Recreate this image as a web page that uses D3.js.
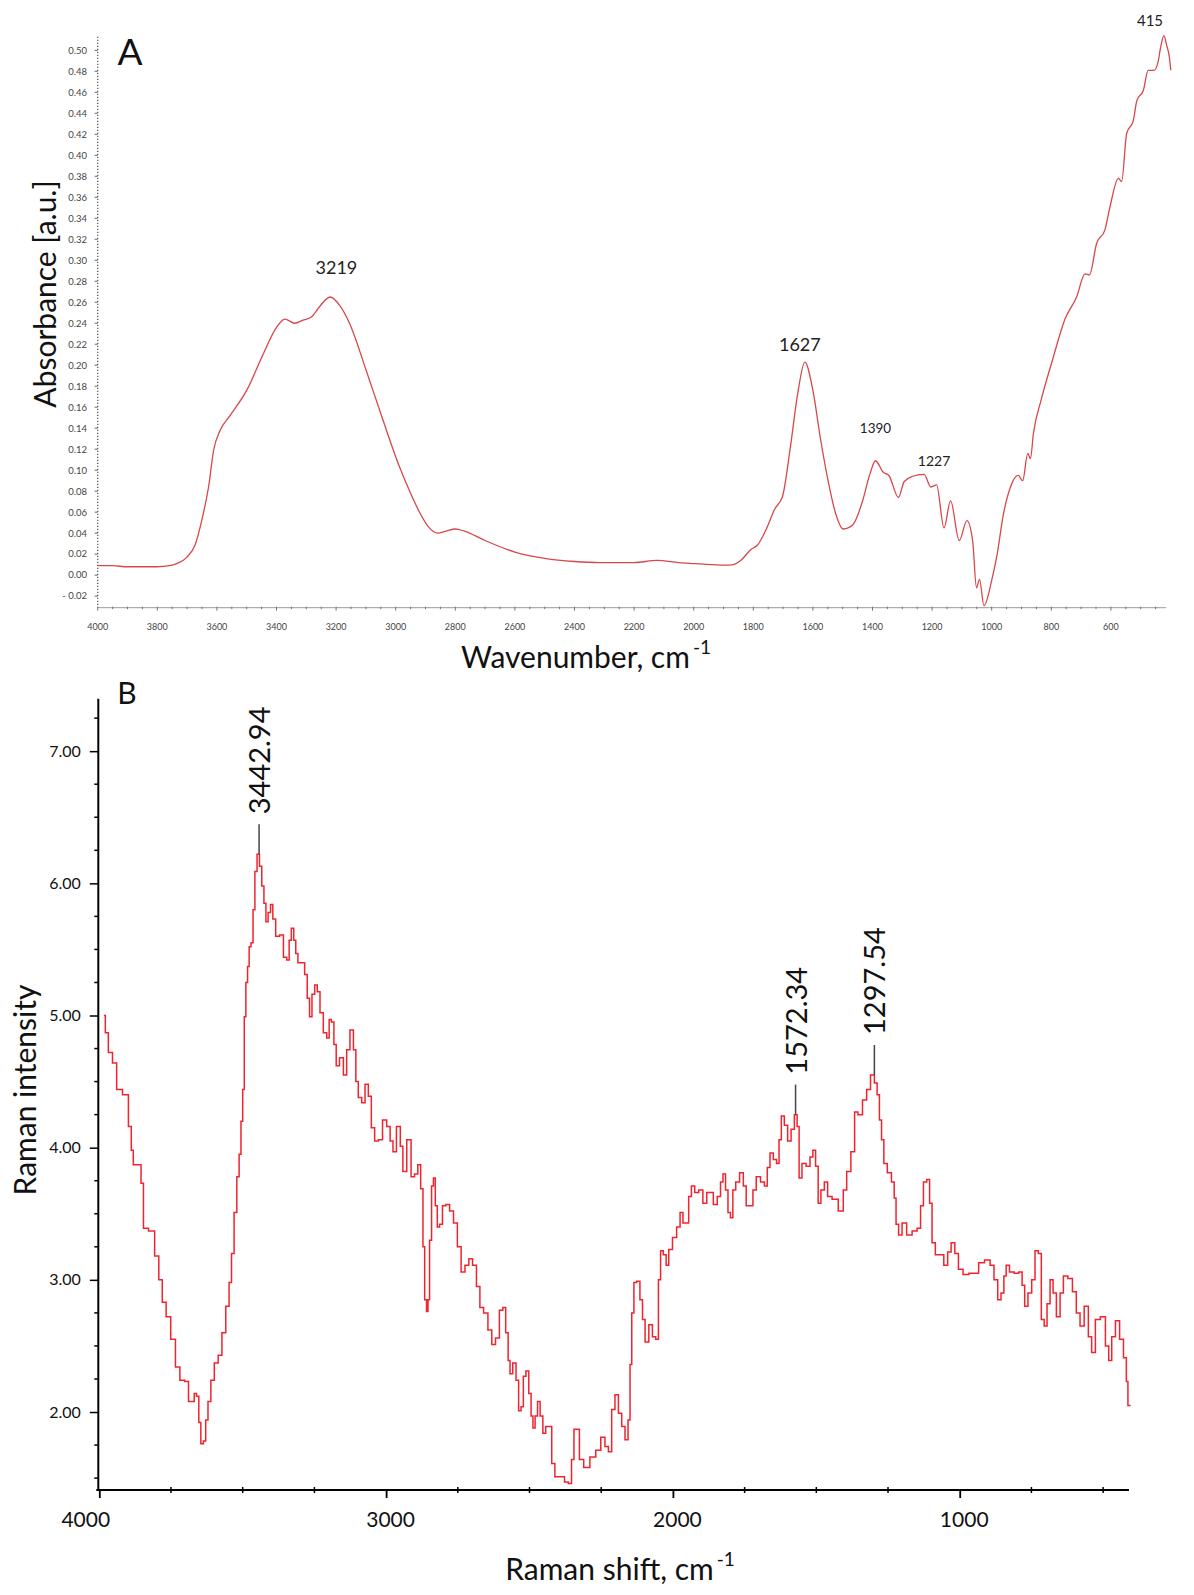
<!DOCTYPE html>
<html>
<head>
<meta charset="utf-8">
<script src="https://cdn.jsdelivr.net/npm/d3@7/dist/d3.min.js"></script>
<style>
  body { margin: 0; background: #fff; }
  svg { display: block; font-family: Lato, "Open Sans", sans-serif; }
</style>
</head>
<body>
<svg id="chart" width="1194" height="1595"></svg>
<script>
// ---- panel A: FTIR spectrum ----
const ftirWavenumber = [4000, 3950, 3900, 3850, 3800, 3760, 3735, 3701, 3673, 3651, 3628, 3611, 3589, 3556, 3500,
  3444, 3400, 3372, 3339, 3311, 3283, 3255, 3220, 3188, 3155, 3099, 3043, 2987, 2950, 2920, 2890, 2860, 2830,
  2800, 2770, 2700, 2600, 2500, 2400, 2314, 2200, 2123, 2050, 1996, 1940, 1881, 1842, 1810, 1785, 1753, 1728,
  1702, 1677, 1651, 1627, 1600, 1574, 1549, 1524, 1498, 1466, 1434, 1408, 1390, 1364, 1345, 1313, 1294, 1268,
  1227, 1204, 1185, 1160, 1138, 1109, 1083, 1064, 1051, 1041, 1026, 1000, 981, 962, 937, 911, 896, 879, 870,
  860, 834, 796, 754, 715, 687, 672, 648, 620, 603, 575, 564, 547, 525, 513, 491, 475, 455, 441, 433, 422,
  413, 404, 399];
const ftirAbsorbance = [0.009, 0.009, 0.008, 0.008, 0.008, 0.009, 0.011, 0.017, 0.029, 0.052, 0.084, 0.119, 0.138, 0.152, 0.176,
  0.211, 0.236, 0.244, 0.240, 0.243, 0.246, 0.256, 0.265, 0.257, 0.240, 0.195, 0.148, 0.103, 0.078, 0.060, 0.046, 0.040, 0.042,
  0.044, 0.042, 0.033, 0.022, 0.016, 0.013, 0.012, 0.012, 0.014, 0.012, 0.011, 0.010, 0.0095, 0.014, 0.024, 0.029, 0.046, 0.063,
  0.075, 0.119, 0.173, 0.203, 0.176, 0.129, 0.090, 0.059, 0.044, 0.048, 0.070, 0.097, 0.109, 0.098, 0.095, 0.074, 0.089, 0.094,
  0.096, 0.084, 0.086, 0.045, 0.071, 0.033, 0.052, 0.033, -0.012, -0.004, -0.029, -0.005, 0.021, 0.056, 0.084, 0.095, 0.090, 0.116, 0.111,
  0.135, 0.167, 0.205, 0.244, 0.265, 0.287, 0.286, 0.316, 0.329, 0.351, 0.378, 0.375, 0.421, 0.433, 0.452, 0.462, 0.481, 0.481, 0.490, 0.503, 0.514,
  0.505, 0.494, 0.481];
const ftirYTicks = d3.range(-0.02, 0.5001, 0.02);
const ftirXTicks = d3.range(4000, 599, -200);
const ftirPeakLabels = ['3219', '1627', '1390', '1227', '415'];
const ftirPeakWn = [3219, 1627, 1390, 1227, 415];
const ftirPeakAbs = [0.265, 0.203, 0.109, 0.096, 0.514];

// ---- panel B: Raman spectrum ----
const ramanShift = [3984, 3974, 3963, 3945, 3934, 3904, 3893, 3884, 3879, 3859, 3850, 3842, 3815, 3799, 3786, 3775, 3759, 3743,
  3726, 3712, 3692, 3686, 3672, 3666, 3656, 3650, 3642, 3632, 3626, 3616, 3606, 3592, 3579, 3566, 3552, 3543, 3535, 3525,
  3516, 3509, 3503, 3497, 3492, 3486, 3480, 3475, 3467, 3461, 3454, 3446, 3437, 3430, 3422, 3416, 3407, 3399, 3391, 3379,
  3364, 3352, 3341, 3335, 3326, 3318, 3312, 3303, 3289, 3279, 3271, 3263, 3254, 3244, 3236, 3225, 3213, 3201, 3196, 3186,
  3178, 3170, 3155, 3143, 3132, 3120, 3108, 3103, 3091, 3079, 3068, 3056, 3047, 3033, 3021, 3004, 2992, 2980, 2972, 2956,
  2945, 2938, 2918, 2908, 2894, 2885, 2874, 2869, 2862, 2856, 2852, 2845, 2838, 2832, 2825, 2818, 2809, 2798, 2785, 2772,
  2758, 2745, 2732, 2718, 2705, 2692, 2678, 2668, 2652, 2638, 2625, 2612, 2598, 2588, 2578, 2571, 2565, 2552, 2542, 2534,
  2525, 2518, 2507, 2498, 2491, 2485, 2476, 2468, 2458, 2449, 2438, 2427, 2418, 2405, 2385, 2371, 2358, 2349, 2341, 2331,
  2321, 2301, 2278, 2260, 2243, 2231, 2219, 2208, 2196, 2184, 2173, 2161, 2152, 2147, 2140, 2132, 2121, 2109, 2103, 2091,
  2077, 2066, 2054, 2047, 2039, 2028, 2019, 2010, 1993, 1981, 1969, 1961, 1950, 1940, 1931, 1917, 1903, 1888, 1876, 1865,
  1853, 1838, 1830, 1821, 1812, 1804, 1795, 1787, 1775, 1760, 1749, 1740, 1725, 1717, 1702, 1687, 1675, 1667, 1656, 1644,
  1633, 1627, 1617, 1606, 1594, 1582, 1571, 1563, 1557, 1543, 1528, 1516, 1508, 1497, 1490, 1478, 1466, 1455, 1435, 1412,
  1400, 1388, 1371, 1362, 1348, 1330, 1319, 1303, 1292, 1284, 1276, 1269, 1260, 1245, 1231, 1226, 1218, 1208, 1194, 1176,
  1156, 1141, 1132, 1121, 1109, 1101, 1092, 1078, 1063, 1048, 1036, 1024, 1010, 999, 978, 958, 941, 927, 900, 888,
  873, 862, 850, 842, 834, 819, 801, 787, 778, 769, 755, 743, 732, 720, 711, 700, 691, 679, 670, 656,
  644, 633, 613, 601, 586, 575, 557, 546, 534, 520, 499, 485, 476, 464, 450, 435, 423, 415, 412, 404];
const ramanIntensity = [5.00, 4.87, 4.72, 4.64, 4.44, 4.40, 4.16, 3.98, 3.87, 3.87, 3.73, 3.39, 3.37, 3.18, 3.00, 2.83, 2.72, 2.55,
  2.34, 2.24, 2.23, 2.08, 2.08, 2.14, 2.12, 1.92, 1.76, 1.78, 1.94, 2.08, 2.24, 2.37, 2.43, 2.60, 2.80, 2.98, 3.20, 3.51,
  3.78, 3.95, 4.20, 4.44, 4.99, 5.25, 5.37, 5.52, 5.55, 5.80, 6.09, 6.22, 6.13, 5.98, 5.85, 5.71, 5.78, 5.84, 5.73, 5.60,
  5.61, 5.44, 5.42, 5.57, 5.66, 5.57, 5.47, 5.40, 5.40, 5.31, 5.13, 4.99, 5.16, 5.23, 5.18, 5.02, 4.87, 4.83, 4.97, 4.95,
  4.78, 4.62, 4.68, 4.55, 4.74, 4.89, 4.74, 4.50, 4.38, 4.34, 4.48, 4.39, 4.15, 4.05, 4.06, 4.21, 4.16, 4.05, 3.97, 4.16,
  4.01, 3.82, 4.06, 3.78, 3.80, 3.87, 3.69, 3.25, 2.85, 2.76, 2.85, 3.30, 3.71, 3.77, 3.56, 3.40, 3.42, 3.56, 3.57, 3.52,
  3.43, 3.25, 3.06, 3.11, 3.16, 3.11, 2.95, 2.79, 2.75, 2.62, 2.51, 2.56, 2.77, 2.79, 2.60, 2.39, 2.29, 2.37, 2.24, 2.01,
  2.04, 2.27, 2.31, 2.14, 1.97, 1.88, 1.97, 2.08, 1.97, 1.84, 1.89, 1.89, 1.61, 1.51, 1.51, 1.47, 1.46, 1.64, 1.87, 1.87,
  1.64, 1.58, 1.66, 1.71, 1.81, 1.74, 1.70, 2.02, 2.13, 1.99, 1.89, 1.79, 1.94, 2.36, 2.75, 2.98, 2.99, 2.85, 2.70, 2.53,
  2.66, 2.57, 2.55, 3.00, 3.22, 3.19, 3.11, 3.23, 3.32, 3.40, 3.51, 3.43, 3.43, 3.63, 3.71, 3.66, 3.68, 3.58, 3.66, 3.66,
  3.57, 3.63, 3.74, 3.80, 3.68, 3.51, 3.47, 3.68, 3.74, 3.81, 3.71, 3.56, 3.56, 3.68, 3.78, 3.74, 3.71, 3.85, 3.96, 3.91,
  3.88, 4.06, 4.24, 4.17, 4.05, 4.14, 4.25, 4.16, 3.77, 3.88, 3.86, 3.93, 3.98, 3.86, 3.58, 3.68, 3.74, 3.63, 3.61, 3.52,
  3.68, 3.82, 3.97, 4.27, 4.25, 4.36, 4.44, 4.55, 4.49, 4.40, 4.21, 4.06, 3.88, 3.81, 3.74, 3.62, 3.42, 3.34, 3.43, 3.34,
  3.37, 3.39, 3.56, 3.74, 3.76, 3.58, 3.28, 3.19, 3.19, 3.11, 3.21, 3.28, 3.20, 3.08, 3.04, 3.05, 3.05, 3.13, 3.15, 3.11,
  3.00, 2.85, 2.90, 3.03, 3.11, 3.06, 3.05, 3.06, 2.96, 2.80, 2.90, 3.00, 3.22, 3.20, 2.70, 2.65, 2.82, 3.00, 2.90, 2.72,
  2.90, 3.03, 3.01, 2.91, 2.75, 2.65, 2.80, 2.57, 2.45, 2.70, 2.72, 2.50, 2.39, 2.57, 2.69, 2.55, 2.41, 2.23, 2.05, 2.05];
const ramanYTicks = [2, 3, 4, 5, 6, 7];
const ramanXTicks = [4000, 3000, 2000, 1000];
const ramanPeakLabels = ['3442.94', '1572.34', '1297.54'];
const ramanPeakShift = [3442.94, 1572.34, 1297.54];
const ramanPeakValue = [6.22, 4.25, 4.55];

const svg = d3.select('#chart');

// ================= Panel A =================
const xA = d3.scaleLinear().domain([4000, 400]).range([97.7, 1170.5]);
const yA = d3.scaleLinear().domain([-0.031, 0.513]).range([607.7, 36.7]);

const gA = svg.append('g').attr('id', 'panelA');

// dotted y axis
gA.append('line')
    .attr('x1', xA(4000)).attr('x2', xA(4000))
    .attr('y1', yA(0.513)).attr('y2', yA(-0.031))
    .attr('stroke', '#666').attr('stroke-width', 1.4)
    .attr('stroke-dasharray', '1.4,1.6');

gA.selectAll('.ytickA').data(ftirYTicks).join('line')
    .attr('x1', xA(4000) - 3).attr('x2', xA(4000))
    .attr('y1', d => yA(d)).attr('y2', d => yA(d))
    .attr('stroke', '#666').attr('stroke-width', 1);

gA.selectAll('.ylabA').data(ftirYTicks).join('text')
    .attr('x', 87).attr('y', d => yA(d))
    .attr('dy', '0.35em')
    .attr('text-anchor', 'end')
    .style('font-size', '9.5px').style('fill', '#444')
    .text(d => Math.abs(d) < 1e-9 ? '0.00' : (d < 0 ? '- ' + d3.format('.2f')(-d) : d3.format('.2f')(d)));

// x axis
gA.append('line')
    .attr('x1', xA(4000)).attr('x2', 1166)
    .attr('y1', yA(-0.031)).attr('y2', yA(-0.031))
    .attr('stroke', '#999').attr('stroke-width', 1);

gA.selectAll('.xminA').data(d3.range(4000, 420, -50)).join('line')
    .attr('x1', d => xA(d)).attr('x2', d => xA(d))
    .attr('y1', yA(-0.031) - 1).attr('y2', d => yA(-0.031) + (d % 200 === 0 ? 3 : 1.5))
    .attr('stroke', '#777').attr('stroke-width', 1);

gA.selectAll('.xlabA').data(ftirXTicks).join('text')
    .attr('x', d => xA(d)).attr('y', 630)
    .attr('text-anchor', 'middle')
    .style('font-size', '9px').style('fill', '#444')
    .text(d => d);

// spectrum
const lineA = d3.line()
    .x((d, i) => xA(ftirWavenumber[i]))
    .y(d => yA(d))
    .curve(d3.curveMonotoneX);

gA.append('path')
    .datum(ftirAbsorbance)
    .attr('d', lineA)
    .attr('fill', 'none')
    .attr('stroke', '#d9464b')
    .attr('stroke-width', 1.3);

// peak labels
const peakOffsetA = [[6, -29, 18], [-5, -17, 18], [0, -32, 13.5], [10, -13, 14], [-16, -15, 15]];
gA.selectAll('.peakA').data(ftirPeakLabels).join('text')
    .attr('x', (d, i) => xA(ftirPeakWn[i]) + peakOffsetA[i][0])
    .attr('y', (d, i) => yA(ftirPeakAbs[i]) + peakOffsetA[i][1])
    .attr('dy', '0.35em')
    .attr('text-anchor', 'middle')
    .style('font-size', (d, i) => peakOffsetA[i][2] + 'px')
    .style('fill', '#222')
    .text(d => d);

gA.append('text').text('A')
    .attr('x', 130).attr('y', 65)
    .attr('text-anchor', 'middle')
    .style('font-size', '37px').style('fill', '#111');

gA.append('text')
    .attr('transform', 'translate(56, 294) rotate(-90)')
    .attr('text-anchor', 'middle')
    .style('font-size', '30px').style('fill', '#111')
    .text('Absorbance [a.u.]');

const titleA = gA.append('text')
    .attr('x', 586).attr('y', 668)
    .attr('text-anchor', 'middle')
    .style('font-size', '30px').style('fill', '#111');
titleA.append('tspan').text('Wavenumber, cm');
titleA.append('tspan').text('-1').attr('dx', 3).attr('dy', -14).style('font-size', '19px');

// ================= Panel B =================
const xB = d3.scaleLinear().domain([4000, 400]).range([99.3, 1131.8]);
const yB = d3.scaleLinear().domain([1.41, 7.40]).range([1490, 698.3]);

const gB = svg.append('g').attr('id', 'panelB');

const yAxisB = d3.axisLeft(yB)
    .tickValues(ramanYTicks)
    .tickFormat(d3.format('.2f'))
    .tickSize(8).tickSizeOuter(0).tickPadding(9);

gB.append('g')
    .attr('transform', `translate(${xB(4000) - 1.5}, 0)`)
    .call(yAxisB)
    .call(g => g.select('.domain').attr('stroke', '#000').attr('stroke-width', 2))
    .call(g => g.selectAll('.tick line').attr('stroke', '#000').attr('stroke-width', 1.5))
    .call(g => g.selectAll('.tick text').style('font-size', '16px').style('font-family', 'Lato, sans-serif').attr('fill', '#111'));

gB.selectAll('.yminB').data(d3.range(1.5, 7.3, 0.25).filter(d => d % 1 !== 0)).join('line')
    .attr('x1', xB(4000) - 5).attr('x2', xB(4000) - 1.5)
    .attr('y1', d => yB(d)).attr('y2', d => yB(d))
    .attr('stroke', '#000').attr('stroke-width', 1.5);

const xAxisB = d3.axisBottom(xB)
    .tickValues(ramanXTicks)
    .tickFormat(d => d)
    .tickSize(8).tickSizeOuter(0).tickPadding(14);

gB.append('g')
    .attr('transform', `translate(0, ${yB(1.41)})`)
    .call(xAxisB)
    .call(g => g.select('.domain').attr('d', `M${xB(4000) - 3},0H1129`).attr('stroke', '#000').attr('stroke-width', 2))
    .call(g => g.selectAll('.tick line').attr('stroke', '#000').attr('stroke-width', 1.8))
    .call(g => g.selectAll('.tick text')
        .attr('dx', d => d === 4000 ? -14 : 4)
        .style('font-size', '21px').style('font-family', 'Lato, sans-serif').attr('fill', '#111'));

gB.selectAll('.xminB').data(d3.range(3750, 400, -250).filter(d => d % 1000 !== 0)).join('line')
    .attr('x1', d => xB(d)).attr('x2', d => xB(d))
    .attr('y1', yB(1.41) - 3).attr('y2', yB(1.41) + 3)
    .attr('stroke', '#000').attr('stroke-width', 1.5);

// spectrum
const lineB = d3.line()
    .x((d, i) => xB(ramanShift[i]))
    .y(d => yB(d))
    .curve(d3.curveStep);

gB.append('path')
    .datum(ramanIntensity)
    .attr('d', lineB)
    .attr('fill', 'none')
    .attr('stroke', '#f0242e')
    .attr('stroke-width', 1.5);

// peak markers
gB.selectAll('.peakLineB').data(ramanPeakLabels).join('line')
    .attr('x1', (d, i) => xB(ramanPeakShift[i])).attr('x2', (d, i) => xB(ramanPeakShift[i]))
    .attr('y1', (d, i) => yB(ramanPeakValue[i])).attr('y2', (d, i) => yB(ramanPeakValue[i]) - 30)
    .attr('stroke', '#444').attr('stroke-width', 1.5);

gB.selectAll('.peakB').data(ramanPeakLabels).join('text')
    .attr('transform', (d, i) => `translate(${xB(ramanPeakShift[i]) + 11}, ${yB(ramanPeakValue[i]) - 40}) rotate(-90)`)
    .attr('text-anchor', 'start')
    .style('font-size', '29px').style('fill', '#111')
    .text(d => d);

gB.append('text').text('B')
    .attr('x', 127).attr('y', 704)
    .attr('text-anchor', 'middle')
    .style('font-size', '30px').style('fill', '#111');

gB.append('text')
    .attr('transform', 'translate(36, 1090) rotate(-90)')
    .attr('text-anchor', 'middle')
    .style('font-size', '30px').style('fill', '#111')
    .text('Raman intensity');

const titleB = gB.append('text')
    .attr('x', 620).attr('y', 1580)
    .attr('text-anchor', 'middle')
    .style('font-size', '30px').style('fill', '#111');
titleB.append('tspan').text('Raman shift, cm');
titleB.append('tspan').text('-1').attr('dx', 3).attr('dy', -14).style('font-size', '19px');
</script>
</body>
</html>
